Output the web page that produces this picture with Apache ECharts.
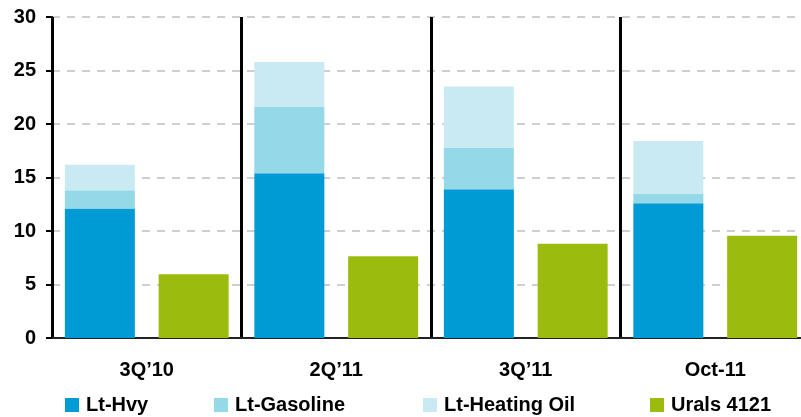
<!DOCTYPE html>
<html lang="en">
<head>
<meta charset="UTF-8">
<title>Crude spreads</title>
<script src="https://cdn.jsdelivr.net/npm/echarts@6/dist/echarts.min.js"></script>
<style>
    html, body { margin: 0; padding: 0; background: #fff; }
    #container { width: 801px; height: 417px; }
</style>
</head>
<body>
<div id="container"></div>
<script type="text/javascript">
    // periods
    var periods = ['3Q\u201910', '2Q\u201911', '3Q\u201911', 'Oct-11'];
    // stacked pieces (each piece is the increment above the one below)
    var ltHvy = [12.1, 15.4, 13.9, 12.6];
    var ltGasoline = [1.7, 6.2, 3.9, 0.9];
    var ltHeatingOil = [2.4, 4.2, 5.7, 4.9];
    var urals4121 = [5.95, 7.65, 8.8, 9.55];
    var yTicks = [0, 5, 10, 15, 20, 25, 30];
    var seriesNames = ['Lt-Hvy', 'Lt-Gasoline', 'Lt-Heating Oil', 'Urals 4121'];

    var FONT = '"Liberation Sans", Arial, sans-serif';
    var myChart = echarts.init(document.getElementById('container'), null, { renderer: 'canvas' });

    // one legend block per item so each sits where the original puts it
    var legendLeft = [65, 214, 423, 650];
    var legends = seriesNames.map(function (name, i) {
        return {
            left: legendLeft[i],
            top: 395,
            padding: 0,
            itemWidth: 14,
            itemHeight: 14,
            icon: 'rect',
            textStyle: { fontFamily: FONT, fontSize: 20, fontWeight: 'bold', color: '#000', padding: [0, 0, 0, 2] },
            data: [name]
        };
    });

    var option = {
        animation: false,
        // the last category runs past the right edge, so let the grid overflow
        grid: { top: 17, bottom: 79, left: 52, right: -9, outerBoundsMode: 'none' },
        legend: legends,
        xAxis: {
            type: 'category',
            data: periods,
            axisLine: { lineStyle: { color: '#222', width: 2 } },
            axisTick: { length: 7, lineStyle: { color: '#000', width: 2 } },
            axisLabel: { margin: 22, fontFamily: FONT, fontSize: 20, fontWeight: 'bold', color: '#000' },
            splitLine: { show: true, lineStyle: { color: '#000', width: 3 } }
        },
        yAxis: {
            type: 'value',
            min: yTicks[0],
            max: yTicks[yTicks.length - 1],
            interval: 5,
            axisLine: { show: true, lineStyle: { color: '#000', width: 2 } },
            axisTick: { show: true, length: 6, lineStyle: { color: '#000', width: 2 } },
            axisLabel: { margin: 16, fontFamily: FONT, fontSize: 20, fontWeight: 'bold', color: '#000' },
            splitLine: { lineStyle: { color: '#c0c0c0', type: [8, 7], width: 1.5 } }
        },
        series: [
            { name: 'Lt-Hvy', type: 'bar', stack: 'lt', barWidth: 70, barGap: '34%', data: ltHvy, itemStyle: { color: '#009BD4' } },
            { name: 'Lt-Gasoline', type: 'bar', stack: 'lt', barWidth: 70, barGap: '34%', data: ltGasoline, itemStyle: { color: '#95D8E8' } },
            { name: 'Lt-Heating Oil', type: 'bar', stack: 'lt', barWidth: 70, barGap: '34%', data: ltHeatingOil, itemStyle: { color: '#C9EAF3' } },
            { name: 'Urals 4121', type: 'bar', barWidth: 70, barGap: '34%', data: urals4121, itemStyle: { color: '#9BBC0E' } }
        ]
    };
    myChart.setOption(option);
</script>
</body>
</html>
